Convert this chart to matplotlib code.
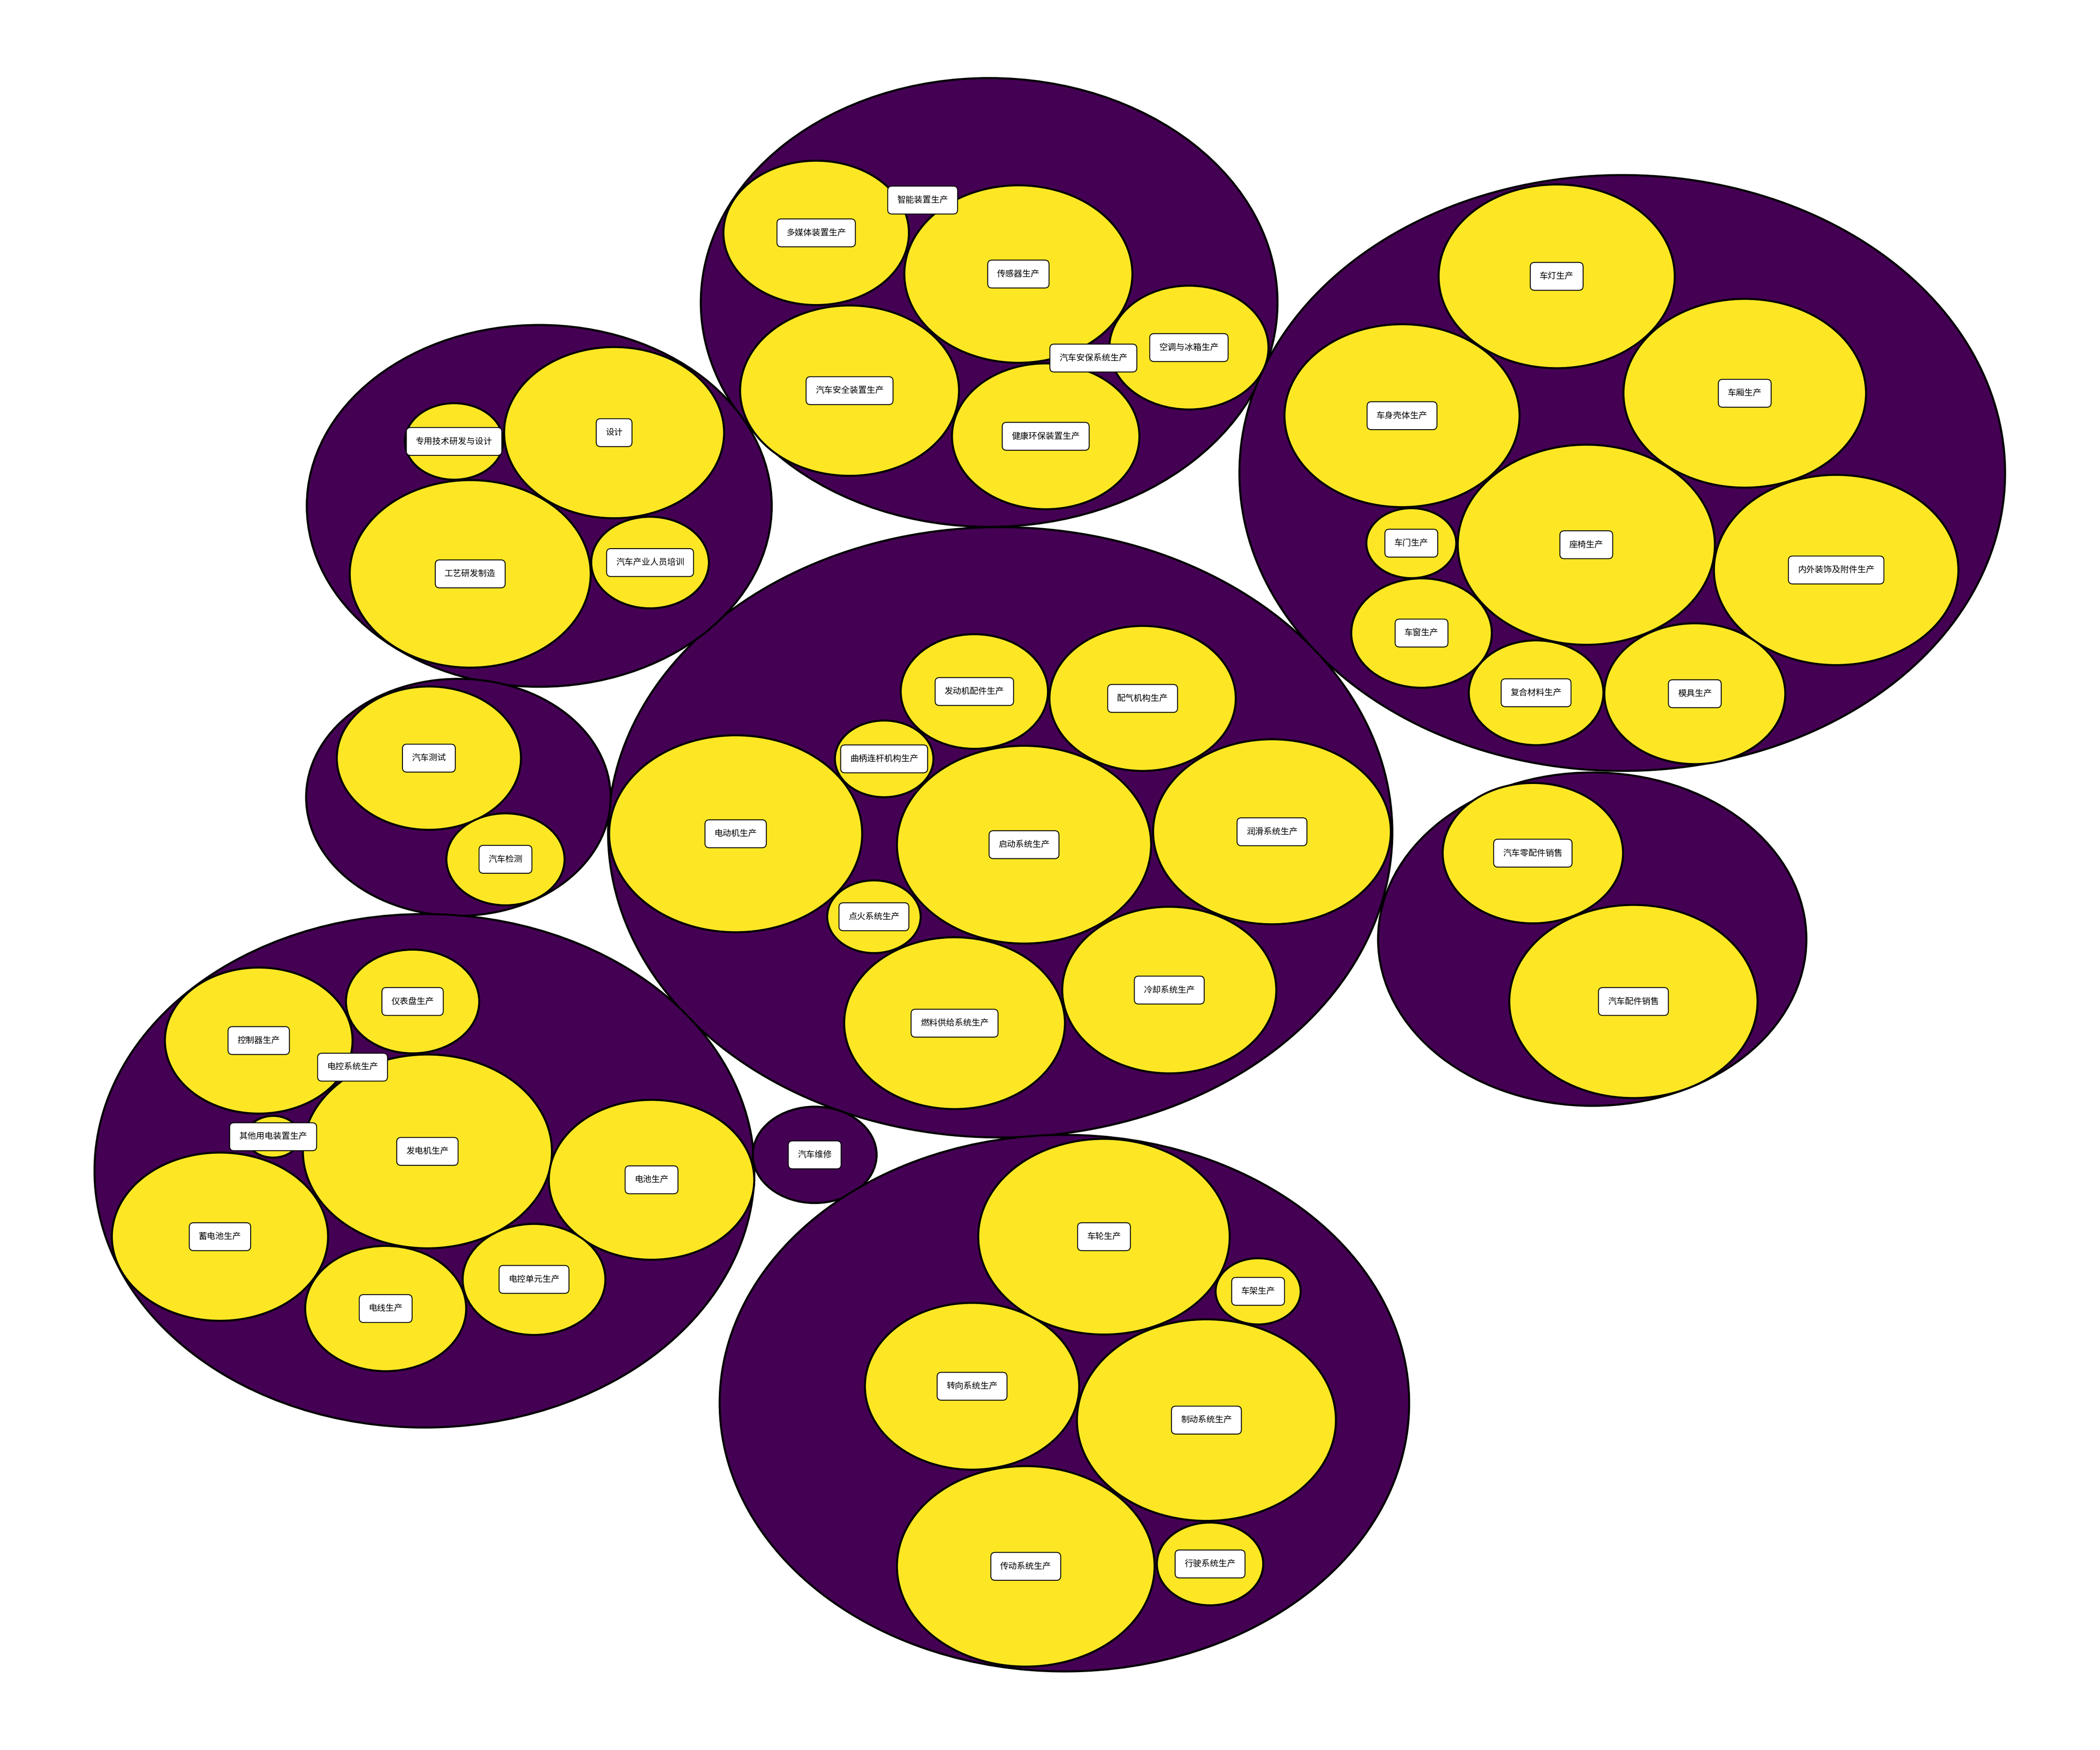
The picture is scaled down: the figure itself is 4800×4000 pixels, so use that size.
import matplotlib
matplotlib.use('Agg')
import matplotlib.pyplot as plt
from matplotlib.patches import Circle

plt.rcParams['font.family'] = ['Noto Sans CJK SC', 'DejaVu Sans']

# level 1 circles (packing output, x / y / r in layout units)
group_names = ['汽车电子', '车身及内饰', '发动机系统', '研发设计', '测试检测',
               '电气系统', '汽车销售', '汽车维修', '底盘系统']
group_x = [7.348, 12.051, 7.430, 4.006, 3.405, 3.153, 11.828, 6.052, 7.907]
group_y = [-2.887, -4.515, -7.945, -4.829, -7.611, -11.176, -8.965, -11.024, -13.394]
group_r = [2.142, 2.844, 2.913, 1.727, 1.131, 2.451, 1.591, 0.460, 2.561]
group_leaf = [False, False, False, False, False, False, False, True, False]

# level 2 circles
child_names = [
    '多媒体装置生产', '智能装置生产', '传感器生产', '空调与冰箱生产', '汽车安保系统生产',
    '汽车安全装置生产', '健康环保装置生产',
    '车灯生产', '车厢生产', '车身壳体生产', '车门生产', '座椅生产', '内外装饰及附件生产',
    '车窗生产', '复合材料生产', '模具生产',
    '发动机配件生产', '配气机构生产', '曲柄连杆机构生产', '电动机生产', '启动系统生产',
    '润滑系统生产', '点火系统生产', '燃料供给系统生产', '冷却系统生产',
    '专用技术研发与设计', '设计', '工艺研发制造', '汽车产业人员培训',
    '汽车测试', '汽车检测',
    '仪表盘生产', '控制器生产', '电控系统生产', '其他用电装置生产', '发电机生产',
    '电池生产', '蓄电池生产', '电线生产', '电控单元生产',
    '汽车零配件销售', '汽车配件销售',
    '车轮生产', '车架生产', '转向系统生产', '制动系统生产', '传动系统生产', '行驶系统生产',
]
child_parent = [0] * 7 + [1] * 9 + [2] * 9 + [3] * 4 + [4] * 2 + [5] * 9 + [6] * 2 + [8] * 6
child_x = [
    6.063, 6.854, 7.565, 8.832, 8.122, 6.311, 7.768,
    11.564, 12.961, 10.415, 10.484, 11.784, 13.640, 10.560, 11.411, 12.590,
    7.238, 8.488, 6.568, 5.465, 7.607, 9.449, 6.492, 7.091, 8.686,
    3.373, 4.562, 3.493, 4.829,
    3.186, 3.755,
    3.065, 1.922, 2.619, 2.029, 3.175, 4.840, 1.634, 2.865, 3.967,
    11.387, 12.134,
    8.201, 9.346, 7.221, 8.962, 7.620, 8.989,
]
child_y = [
    -2.223, -1.910, -2.616, -3.318, -3.418, -3.729, -4.165,
    -2.638, -3.754, -3.968, -5.185, -5.200, -5.441, -6.043, -6.613, -6.622,
    -6.601, -6.667, -7.244, -7.959, -8.063, -7.940, -8.751, -9.767, -9.451,
    -4.214, -4.130, -5.478, -5.370,
    -7.237, -8.203,
    -9.560, -9.933, -10.187, -10.851, -10.991, -11.262, -11.805, -12.491, -12.213,
    -8.144, -9.560,
    -11.805, -12.327, -13.233, -13.556, -14.952, -14.929,
]
child_r = [
    0.689, 0.109, 0.847, 0.591, 0.070, 0.813, 0.696,
    0.877, 0.901, 0.873, 0.334, 0.955, 0.908, 0.522, 0.500, 0.672,
    0.547, 0.692, 0.366, 0.940, 0.944, 0.883, 0.347, 0.820, 0.795,
    0.365, 0.817, 0.895, 0.437,
    0.684, 0.439,
    0.495, 0.697, 0.070, 0.199, 0.925, 0.763, 0.803, 0.598, 0.530,
    0.670, 0.922,
    0.934, 0.316, 0.796, 0.962, 0.957, 0.395,
]

cmap = plt.get_cmap('viridis')
label_box = dict(boxstyle='round,pad=1.1,rounding_size=0.5', facecolor='white',
                 edgecolor='black', linewidth=1.5)

fig = plt.figure(figsize=(48, 40), dpi=100)
ax = fig.add_axes([0, 0, 1, 1])

for i in range(len(group_names)):
    ax.add_patch(Circle((group_x[i], group_y[i]), group_r[i], facecolor=cmap(0.0),
                        edgecolor='black', linewidth=3.3, zorder=1))

for i in range(len(child_names)):
    ax.add_patch(Circle((child_x[i], child_y[i]), child_r[i], facecolor=cmap(1.0),
                        edgecolor='black', linewidth=3.3, zorder=2))

for i in range(len(group_names)):
    if group_leaf[i]:
        ax.text(group_x[i], group_y[i], group_names[i], ha='center', va='center',
                fontsize=14, bbox=label_box, zorder=3)

for i in range(len(child_names)):
    ax.text(child_x[i], child_y[i], child_names[i], ha='center', va='center',
            fontsize=14, bbox=label_box, zorder=3)

ax.set_xlim(0, 15.6)
ax.set_ylim(-16.705, 0)
ax.axis('off')

fig.savefig('out.png', dpi=100, facecolor='white')
